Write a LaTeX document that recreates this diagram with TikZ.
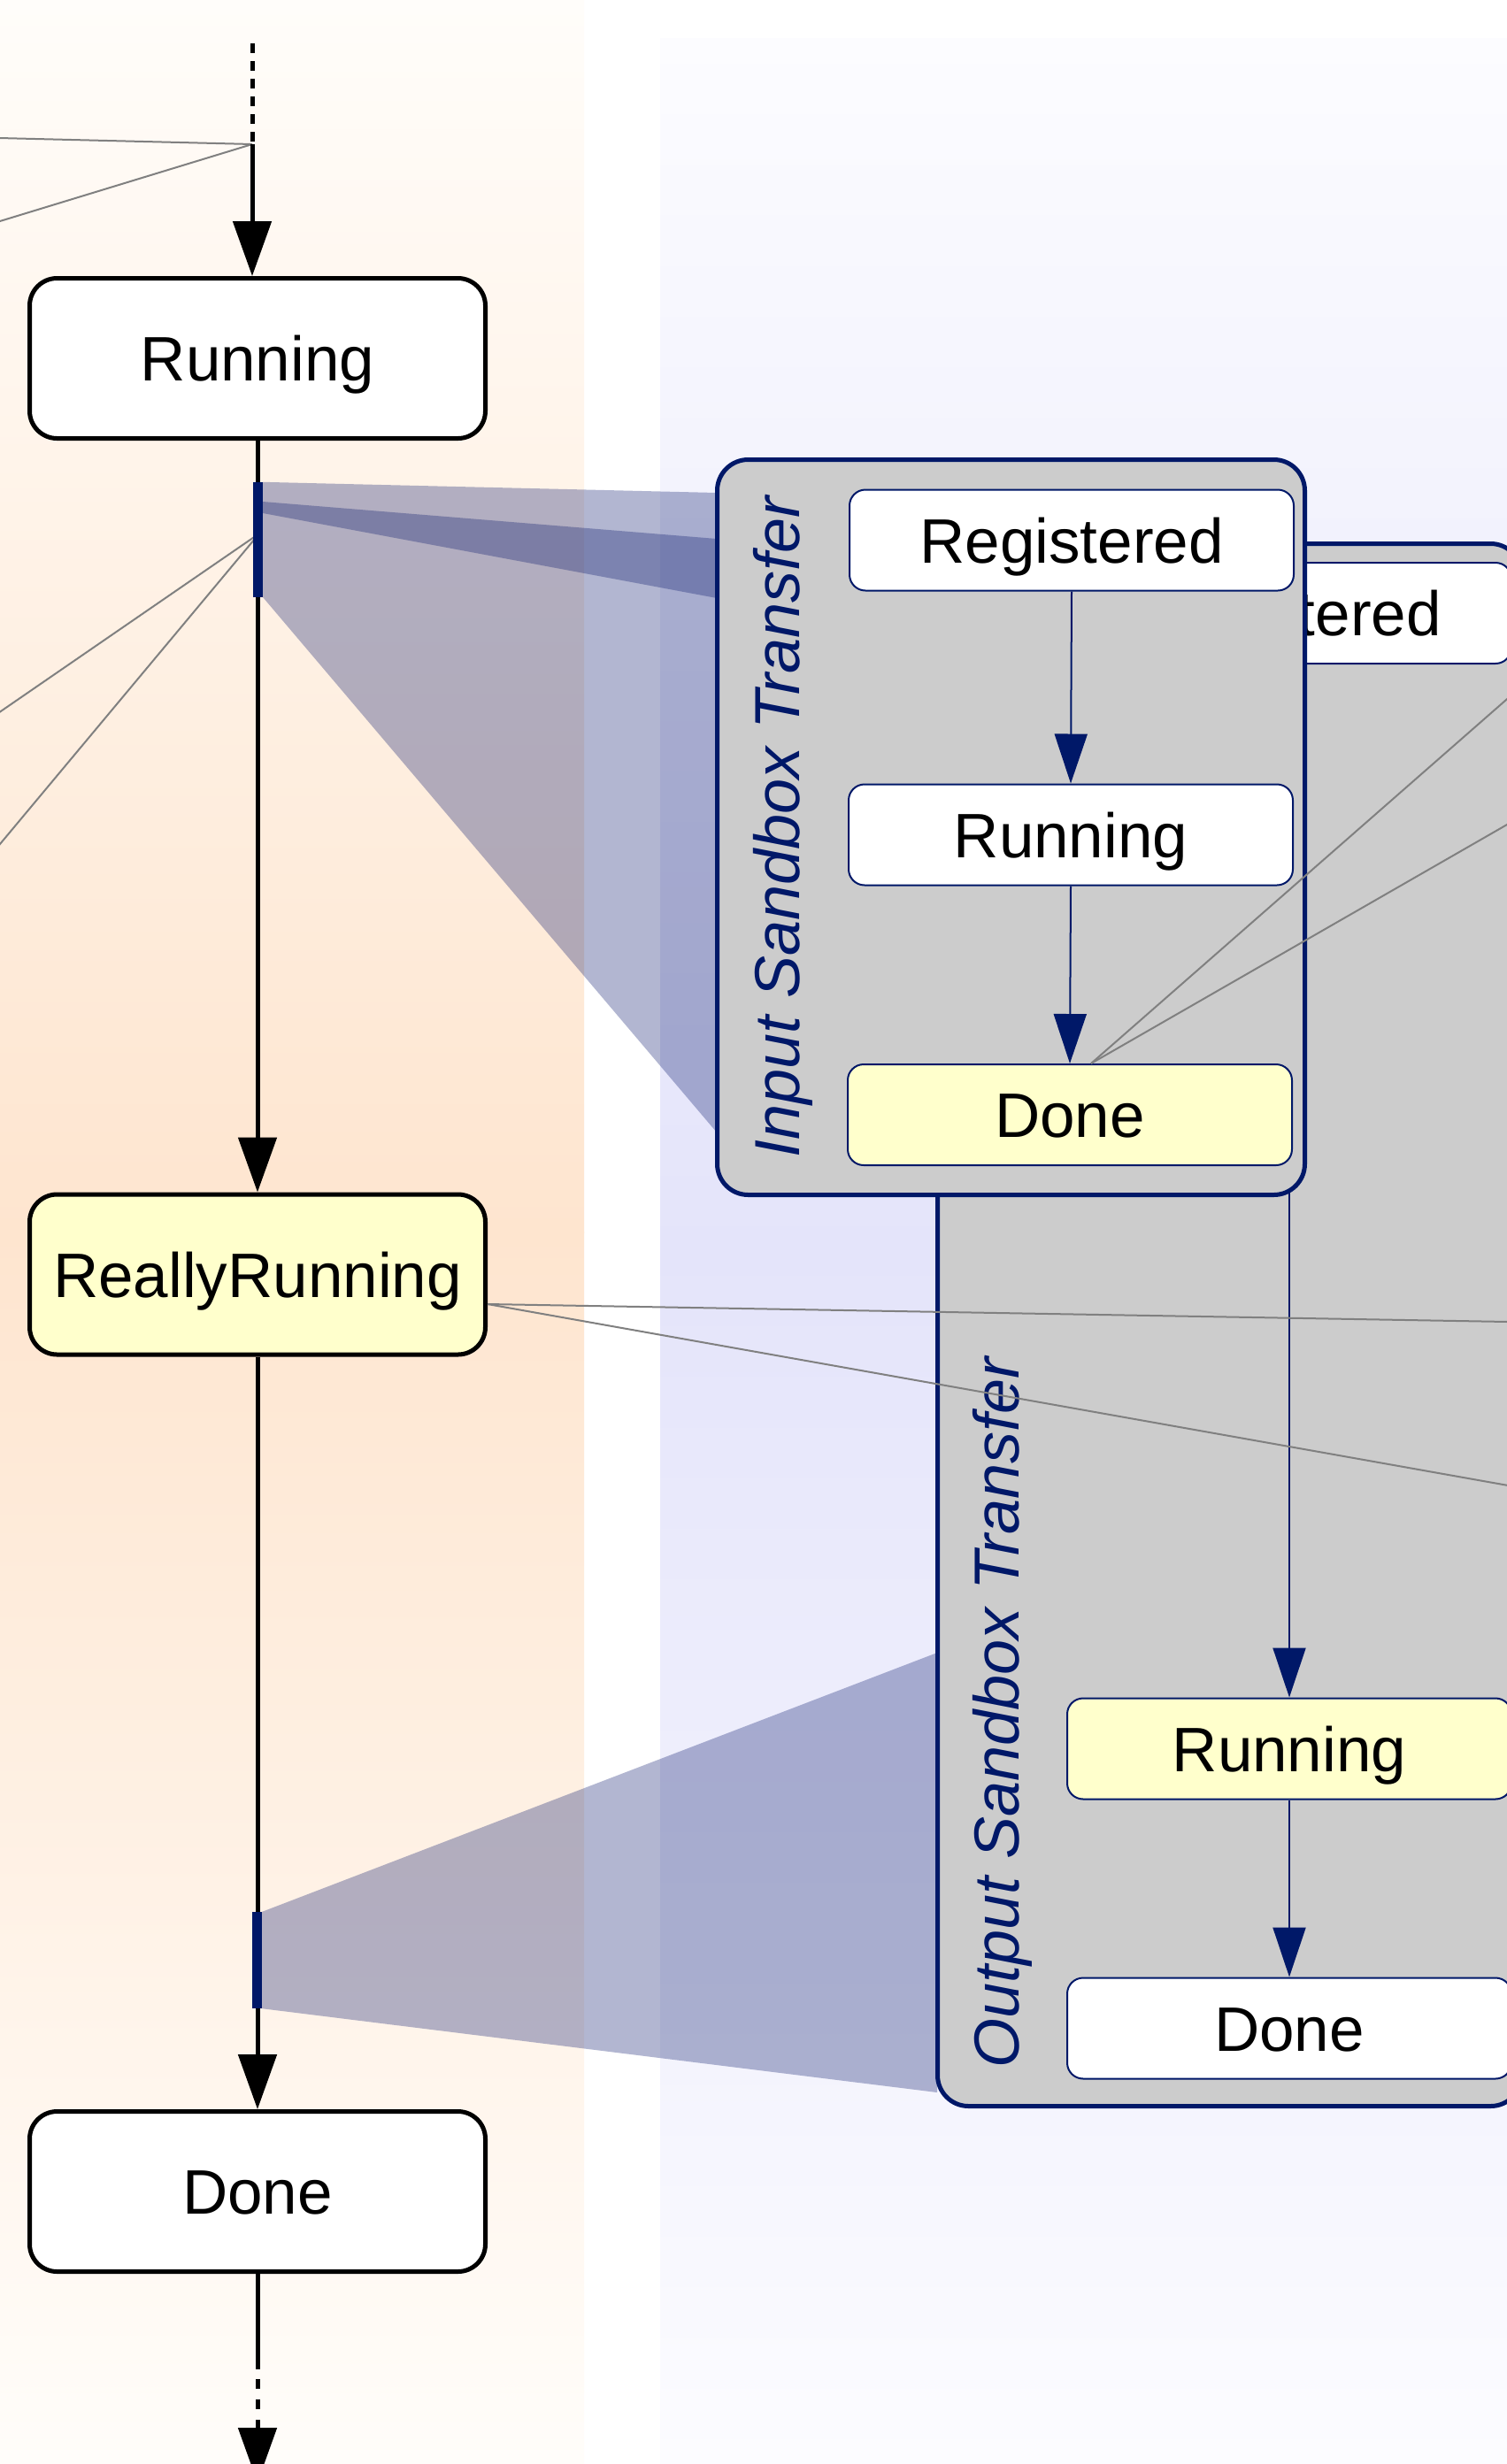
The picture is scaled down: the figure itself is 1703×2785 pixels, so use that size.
\documentclass[tikz,border=0pt]{standalone}
\usepackage{fontspec}
\setmainfont{Liberation Sans}
\usetikzlibrary{arrows.meta,calc}
\definecolor{navy}{RGB}{0,24,104}
\definecolor{boxgray}{RGB}{204,204,204}
\definecolor{paleyellow}{RGB}{255,255,204}
\definecolor{peachtop}{RGB}{255,253,250}
\definecolor{peachmid}{RGB}{254,229,207}
\definecolor{lavtop}{RGB}{252,252,255}
\definecolor{lavmid}{RGB}{228,228,250}
\definecolor{projcol}{RGB}{0,16,103}
\definecolor{linkgray}{RGB}{128,128,128}
\begin{document}
\begin{tikzpicture}[x=1pt,y=-1pt,
  every node/.style={inner sep=0pt, font=\fontsize{71}{85}\selectfont, text height=51pt, text depth=0pt},
  mainstate/.style={draw=black, line width=5pt, rounded corners=31pt, minimum width=515pt, minimum height=181pt, fill=white},
  substate/.style={draw=navy, line width=2pt, rounded corners=18pt, minimum width=502pt, minimum height=114pt, fill=white},
  container/.style={draw=navy, line width=5pt, rounded corners=35pt, fill=boxgray},
  clabel/.style={rotate=90, text=navy, font=\fontsize{72}{86}\selectfont\itshape},
  mainflow/.style={line width=5pt, draw=black},
  mainarrow/.style={mainflow, -{Triangle[width=43pt,length=62pt]}},
  subarrow/.style={draw=navy, line width=2pt, -{Triangle[width=37pt,length=56pt]}},
  bar/.style={fill=navy, draw=none, minimum width=11pt, minimum height=130pt},
  link/.style={draw=linkgray, line width=2pt},
  proj/.style={fill=projcol, fill opacity=0.3, draw=none},
]
\useasboundingbox (0,0) rectangle (1703,2785);
\clip (0,0) rectangle (1703,2785);
\fill[white] (0,0) rectangle (1703,2785);

% background bands
\shade[top color=peachtop, bottom color=peachmid] (0,0) rectangle (660,1393);
\shade[top color=peachmid, bottom color=peachtop] (0,1392) rectangle (660,2785);
\shade[top color=lavtop, bottom color=lavmid] (746,43) rectangle (1703,1414);
\shade[top color=lavmid, bottom color=lavtop] (746,1413) rectangle (1703,2785);

% bars (positions) - drawn later, defined here for projections
\node[bar] (b1) at (291.5,610) {};
\node[bar, minimum height=109pt] (b2) at (290.5,2215.5) {};

% projections
\fill[proj] (b1.north east) -- (810,557) -- (810,1280) -- (b1.south east) -- cycle;
\fill[proj] (297,567) -- (810,609) -- (810,676) -- (297,580) -- cycle;
\fill[proj] (b2.north east) -- (1059,1868) -- (1059,2365) -- (b2.south east) -- cycle;

% output sandbox transfer container
\node[container, minimum width=660pt, minimum height=1766pt] (outbox) at (1389.5,1497.5) {};
\node[clabel] (outlabel) at (1126,1936) {Output Sandbox Transfer};
\node[substate] (oreg) at (1457,693) {Registered};
\node[substate, fill=paleyellow] (orun) at (1457,1976.5) {Running};
\node[substate] (odone) at (1457,2292.5) {Done};
\draw[subarrow] (oreg.south) -- (orun.north);
\draw[subarrow] (orun.south) -- (odone.north);

% input sandbox transfer container
\node[container, minimum width=664pt, minimum height=831pt] (inbox) at (1142.5,935) {};
\node[clabel] (inlabel) at (878,935) {Input Sandbox Transfer};
\node[substate] (ireg) at (1211,610.5) {Registered};
\node[substate] (irun) at (1210,943.5) {Running};
\node[substate, fill=paleyellow] (idone) at (1209,1260) {Done};
\draw[subarrow] (ireg.south) -- (irun.north);
\draw[subarrow] (irun.south) -- (idone.north);

% left column states
\node[mainstate] (run) at (291,405) {Running};
\node[mainstate, fill=paleyellow] (rr) at (291,1440.5) {ReallyRunning};
\node[mainstate] (done) at (291,2477) {Done};

% gray link lines
\coordinate (jt) at (285,163);
\coordinate (gA) at (-5,155.9);
\coordinate (gB) at (-5,251.5);
\draw[link] (jt) -- (gA);
\draw[link] (jt) -- (gB);
\coordinate (bp) at (293,603);
\coordinate (gC) at (-5,808);
\coordinate (gD) at (-5,960);
\draw[link] (bp) -- (gC);
\draw[link] (bp) -- (gD);
\coordinate (dp) at ($(idone.north)+(24,0)$);
\coordinate (gE) at (1710,784);
\coordinate (gF) at (1710,928);
\draw[link] (dp) -- (gE);
\draw[link] (dp) -- (gF);
\coordinate (rp) at ($(rr.east)+(0,33.5)$);
\coordinate (gG) at (1710,1494.1);
\coordinate (gH) at (1710,1680);
\draw[link] (rp) -- (gG);
\draw[link] (rp) -- (gH);

% main flow
\coordinate (topstart) at (285,49);
\draw[mainflow, dash pattern=on 11pt off 9pt] (topstart) -- (jt);
\draw[mainarrow] (jt) -- (jt |- run.north);
\draw[mainarrow] (run.south) -- (rr.north);
\draw[mainarrow] (rr.south) -- (done.north);
\coordinate (bsolid) at (291,2678);
\coordinate (bdash) at (291,2689);
\coordinate (bdashend) at (291,2745);
\coordinate (btip) at (291,2738);
\coordinate (bend) at (291,2806);
\draw[mainflow] (done.south) -- (bsolid);
\draw[mainflow, dash pattern=on 11pt off 12pt] (bdash) -- (bdashend);
\draw[mainarrow] (btip) -- (bend);

% bars on top
\node[bar] at (b1) {};
\node[bar, minimum height=109pt] at (b2) {};
\end{tikzpicture}
\end{document}
